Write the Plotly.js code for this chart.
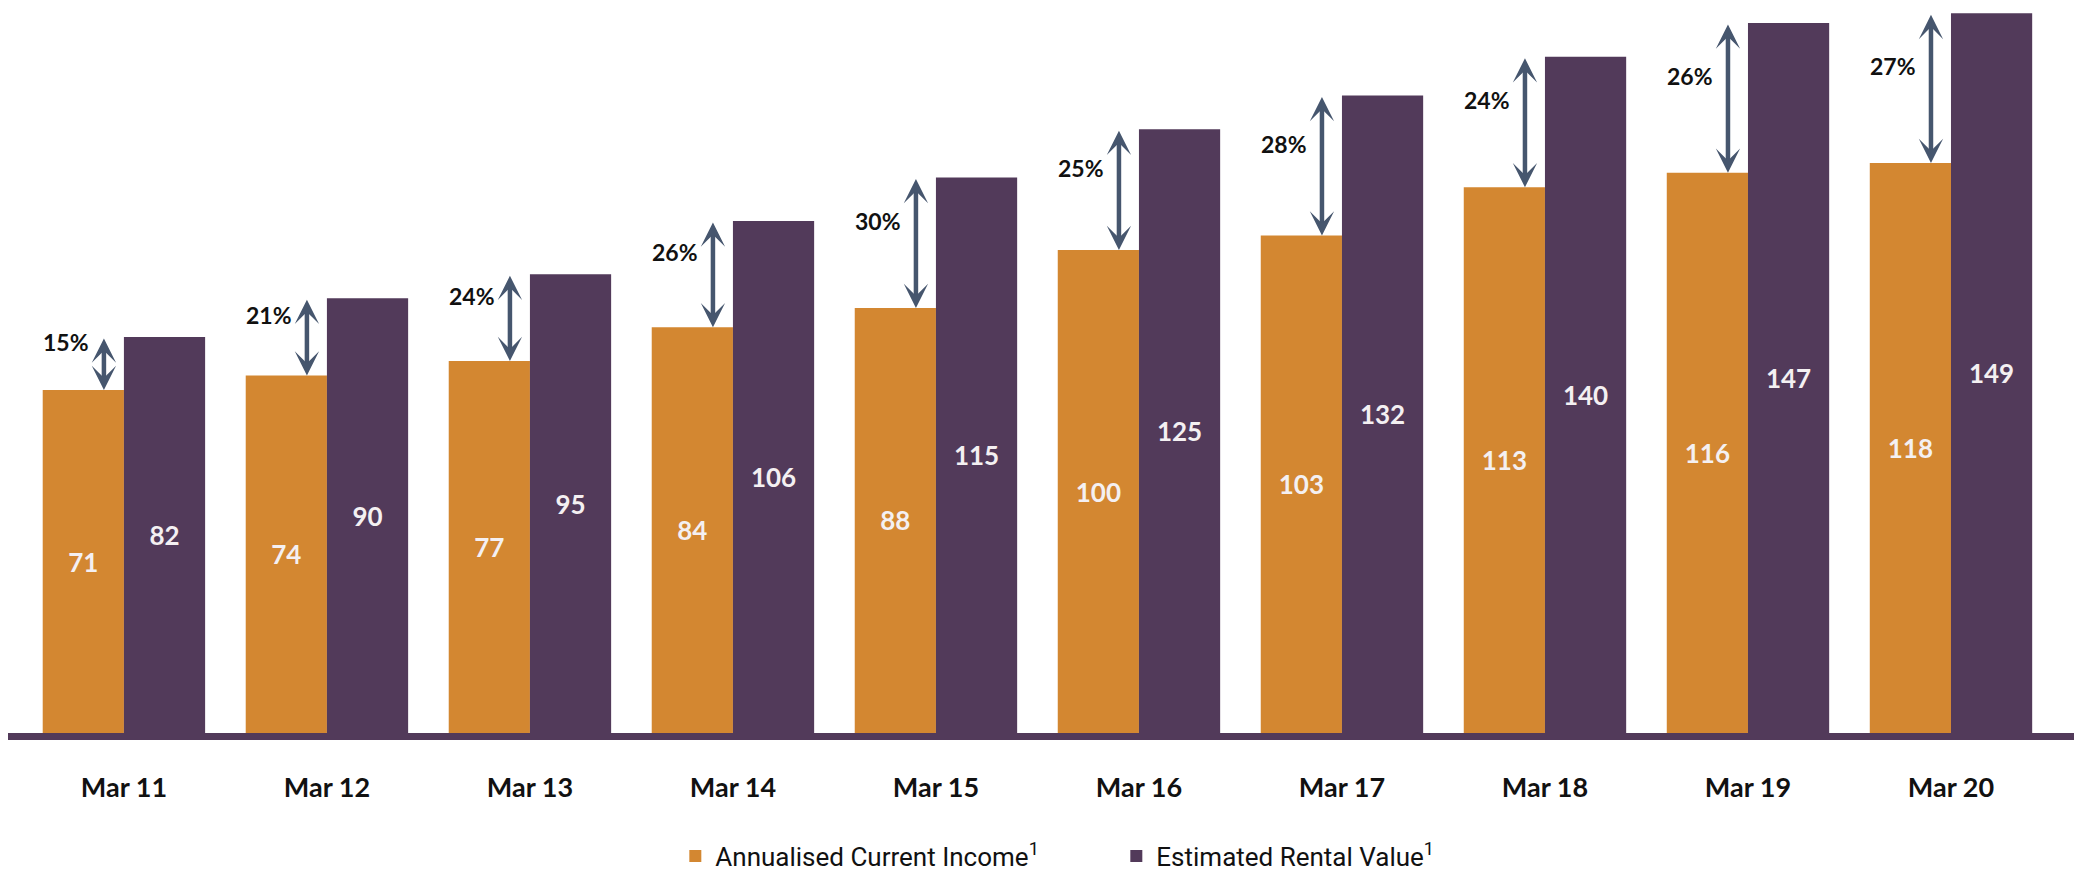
<!DOCTYPE html>
<html>
<head>
<meta charset="utf-8">
<script src="https://cdn.plot.ly/plotly-3.0.1.min.js"></script>
<style>
  html, body { margin: 0; padding: 0; background: #ffffff; }
  #chart { width: 2082px; height: 873px; }
</style>
</head>
<body>
<div id="chart"></div>
<script>
const categories = ['Mar 11','Mar 12','Mar 13','Mar 14','Mar 15','Mar 16','Mar 17','Mar 18','Mar 19','Mar 20'];
const currentIncome = [71, 74, 77, 84, 88, 100, 103, 113, 116, 118];
const rentalValue = [82, 90, 95, 106, 115, 125, 132, 140, 147, 149];
const reversion = ['15%','21%','24%','26%','30%','25%','28%','24%','26%','27%'];
const seriesNames = ['Annualised Current Income<sup>1</sup>', 'Estimated Rental Value<sup>1</sup>'];

const ORANGE = '#d38731';
const PURPLE = '#523a5a';
const ARROW = '#46566e';

const barText = {family: 'Lato, sans-serif', size: 26, color: '#f4f0f2', weight: 700};

const traces = [
  {
    type: 'bar', name: seriesNames[0], x: categories, y: currentIncome,
    marker: {color: ORANGE, line: {width: 0}},
    text: currentIncome.map(String), textposition: 'inside', insidetextanchor: 'middle',
    textfont: barText, constraintext: 'none', hoverinfo: 'skip'
  },
  {
    type: 'bar', name: seriesNames[1], x: categories, y: rentalValue,
    marker: {color: PURPLE, line: {width: 0}},
    text: rentalValue.map(String), textposition: 'inside', insidetextanchor: 'middle',
    textfont: barText, constraintext: 'none', hoverinfo: 'skip'
  }
];

const annotations = [];
categories.forEach((c, i) => {
  annotations.push({
    x: c, y: currentIncome[i], ax: c, ay: rentalValue[i],
    xref: 'x', yref: 'y', axref: 'x', ayref: 'y',
    text: '', showarrow: true, arrowside: 'end+start', arrowhead: 3, startarrowhead: 3,
    arrowsize: 0.9, startarrowsize: 0.9, arrowwidth: 4.5, arrowcolor: ARROW,
    xshift: -20, standoff: 0, startstandoff: 0
  });
  const gap = rentalValue[i] - currentIncome[i];
  annotations.push({
    x: c, y: rentalValue[i] - Math.max(0.5 * gap - 4.5, 0.5), xref: 'x', yref: 'y',
    text: reversion[i], showarrow: false,
    xanchor: 'right', yanchor: 'middle', xshift: -33,
    font: {family: 'Lato, sans-serif', size: 23, color: '#111111', weight: 700}
  });
});

const layout = {
  width: 2082, height: 873,
  margin: {l: 8, r: 8, t: 0, b: 140, pad: 0, autoexpand: false},
  paper_bgcolor: '#ffffff', plot_bgcolor: '#ffffff',
  barmode: 'group', bargap: 0.2, bargroupgap: 0,
  showlegend: true,
  legend: {
    orientation: 'h', x: 0.323, y: -0.168, xanchor: 'left', yanchor: 'middle',
    font: {family: 'Roboto, sans-serif', size: 26, color: '#111111'},
    itemwidth: 30, tracegroupgap: 0, traceorder: 'normal',
    entrywidth: 396, entrywidthmode: 'pixels'
  },
  xaxis: {
    type: 'category', range: [-0.571, 9.606],
    showline: true, linecolor: PURPLE, linewidth: 7,
    showgrid: false, zeroline: false, ticks: '',
    ticklabelstandoff: 25,
    tickfont: {family: 'Lato, sans-serif', size: 27, color: '#111111', weight: 700},
    fixedrange: true
  },
  yaxis: {
    range: [0, 151.76], visible: false, showgrid: false, zeroline: false, fixedrange: true
  },
  annotations: annotations
};

Plotly.newPlot('chart', traces, layout, {displayModeBar: false, staticPlot: true});
</script>
</body>
</html>
